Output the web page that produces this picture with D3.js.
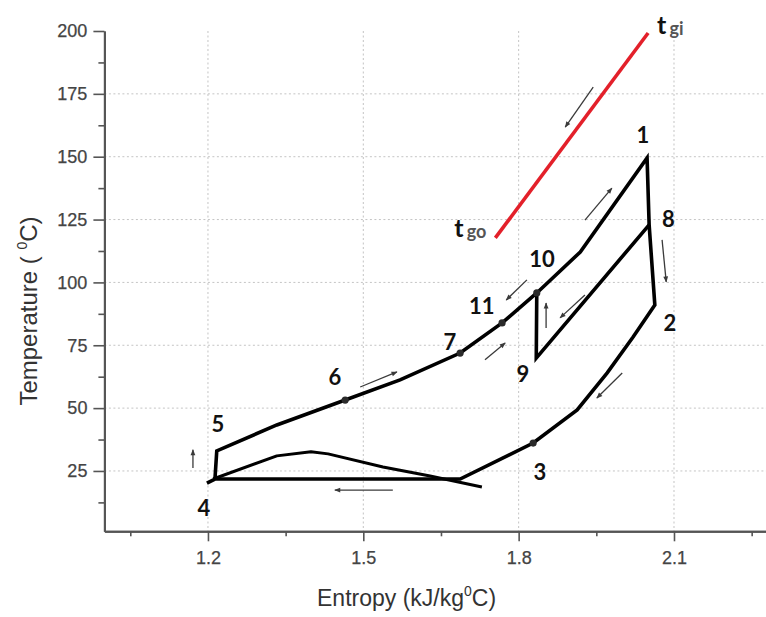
<!DOCTYPE html>
<html><head><meta charset="utf-8">
<script src="https://cdn.jsdelivr.net/npm/d3@7"></script>
<style>
html,body{margin:0;padding:0;background:#fff;}
svg{display:block;}
</style></head>
<body>
<svg id="chart" width="766" height="617"></svg>
<script>
// ---- data (entropy kJ/kg°C, temperature °C) ----
const xMajorTicks = [1.2, 1.5, 1.8, 2.1];
const xMinorTicks = [1.05, 1.35, 1.65, 1.95, 2.25];
const yMajorTicks = [25, 50, 75, 100, 125, 150, 175, 200];
const yMinorTicks = [12.5, 37.5, 62.5, 87.5, 112.5, 137.5, 162.5, 187.5];

// main cycle: 4 -> 5 -> 6 -> 7 -> 11 -> 10 -> 1 -> 8 -> 2 -> 3 -> back to 4
const mainS = [1.198, 1.2135, 1.217, 1.333, 1.465, 1.571, 1.687, 1.768, 1.835, 1.919, 2.048, 2.052, 2.063, 2.021, 1.971, 1.913, 1.828, 1.687, 1.210];
const mainT = [20.2, 21.8, 33.0, 43.3, 53.2, 61.2, 71.9, 83.9, 95.8, 112.1, 149.5, 122.9, 91.0, 78.3, 64.0, 49.3, 36.1, 21.8, 21.8];
// inner recuperation loop: 8 -> 9 -> 10
const innerS = [2.052, 1.834, 1.835];
const innerT = [122.9, 69.9, 95.8];
// saturation dome
const domeS = [1.210, 1.333, 1.399, 1.432, 1.538, 1.629, 1.729];
const domeT = [21.8, 31.0, 32.6, 31.8, 26.6, 23.0, 18.6];
// exhaust gas line t_go -> t_gi
const gasS = [1.755, 2.050];
const gasT = [117.7, 199.2];
// marked state points (3, 6, 7, 11, 10)
const dotS = [1.828, 1.465, 1.687, 1.768, 1.835];
const dotT = [36.1, 53.2, 71.9, 83.9, 95.8];
// state point labels (centre positions)
const labelText = ["1", "8", "2", "10", "11", "7", "6", "9", "3", "5", "4"];
const labelS = [2.040, 2.089, 2.092, 1.845, 1.729, 1.667, 1.445, 1.808, 1.841, 1.219, 1.192];
const labelT = [159.0, 125.6, 83.9, 109.7, 91.0, 76.3, 62.4, 63.6, 24.6, 43.7, 10.3];
// direction arrows (from -> to)
const arrowS0 = [1.944, 1.928, 2.077, 1.816, 1.853, 1.928, 1.735, 1.494, 2.000, 1.557, 1.171];
const arrowT0 = [177.7, 124.8, 116.9, 101.0, 81.9, 95.0, 69.2, 58.4, 64.0, 17.4, 26.2];
const arrowS1 = [1.890, 1.980, 2.085, 1.776, 1.853, 1.880, 1.774, 1.565, 1.951, 1.445, 1.171];
const arrowT1 = [161.8, 137.5, 100.2, 93.0, 91.8, 85.9, 75.9, 64.4, 54.0, 17.4, 33.4];

// ---- drawing ----
const svg = d3.select("#chart");
const x = d3.scaleLinear().domain([1.0, 2.28]).range([104.4, 767.2]);
const y = d3.scaleLinear().domain([1, 200]).range([531.3, 31]);

const axisColor = "#555";
const sans = "'Liberation Sans', Arial, sans-serif";

// grid
const grid = svg.append("g");
grid.selectAll("line.v").data(xMajorTicks).join("line")
  .attr("x1", d => x(d)).attr("x2", d => x(d))
  .attr("y1", y(200)).attr("y2", y(1))
  .attr("stroke", "#c4c4c4").attr("stroke-width", 1).attr("stroke-dasharray", "2,2.5");
grid.selectAll("line.h").data(yMajorTicks.filter(d => d < 200)).join("line")
  .attr("x1", x(1.0)).attr("x2", 766)
  .attr("y1", d => y(d)).attr("y2", d => y(d))
  .attr("stroke", "#c4c4c4").attr("stroke-width", 1).attr("stroke-dasharray", "2,2.5");

// axes
function styleAxis(g) {
  g.selectAll("path.domain").attr("stroke", axisColor).attr("stroke-width", 2);
  g.selectAll(".tick line").attr("stroke", axisColor).attr("stroke-width", 1.6);
  g.selectAll(".tick text").attr("fill", "#444").attr("stroke", "#444").attr("stroke-width", 0.25)
    .attr("font-family", sans).attr("font-size", 18);
}
const yAxisMinor = svg.append("g").attr("transform", `translate(${x(1.0)},0)`)
  .call(d3.axisLeft(y).tickValues(yMinorTicks).tickSize(6).tickSizeOuter(0).tickFormat(""));
styleAxis(yAxisMinor);
const yAxis = svg.append("g").attr("transform", `translate(${x(1.0)},0)`)
  .call(d3.axisLeft(y).tickValues(yMajorTicks).tickSize(11).tickSizeOuter(0).tickPadding(6).tickFormat(d3.format("d")));
styleAxis(yAxis);

const xAxisMinor = svg.append("g").attr("transform", `translate(0,${y(1)})`)
  .call(d3.axisBottom(x).tickValues(xMinorTicks).tickSize(5).tickSizeOuter(0).tickFormat(""));
styleAxis(xAxisMinor);
const xAxis = svg.append("g").attr("transform", `translate(0,${y(1)})`)
  .call(d3.axisBottom(x).tickValues(xMajorTicks).tickSize(10).tickSizeOuter(0).tickPadding(10).tickFormat(d3.format(".1f")));
styleAxis(xAxis);

// axis titles
const xt = svg.append("text").attr("x", 317).attr("y", 606).attr("text-anchor", "start")
  .attr("font-family", sans).attr("font-size", 23).attr("fill", "#333");
xt.append("tspan").text("Entropy (kJ/kg");
xt.append("tspan").attr("font-size", 14).attr("dy", -10).text("0");
xt.append("tspan").attr("dy", 10).text("C)");

const yt = svg.append("text").attr("transform", "translate(37,311) rotate(-90)").attr("text-anchor", "middle")
  .attr("font-family", sans).attr("font-size", 24).attr("fill", "#333");
yt.append("tspan").text("Temperature ( ");
yt.append("tspan").attr("font-size", 14).attr("dy", -10).text("0");
yt.append("tspan").attr("dy", 10).text("C)");

// line generator
const line = d3.line().x(d => x(d[0])).y(d => y(d[1]));
const zip = (a, b) => a.map((v, i) => [v, b[i]]);

// dome
svg.append("path").attr("d", line(zip(domeS, domeT)))
  .attr("fill", "none").attr("stroke", "#000").attr("stroke-width", 3).attr("stroke-linejoin", "round");
// main cycle
svg.append("path").attr("d", line(zip(mainS, mainT)))
  .attr("fill", "none").attr("stroke", "#000").attr("stroke-width", 3.6).attr("stroke-linejoin", "miter");
// inner loop
svg.append("path").attr("d", line(zip(innerS, innerT)))
  .attr("fill", "none").attr("stroke", "#000").attr("stroke-width", 3.6).attr("stroke-linejoin", "miter");
// gas line
svg.append("path").attr("d", line(zip(gasS, gasT)))
  .attr("fill", "none").attr("stroke", "#e3202a").attr("stroke-width", 3.6);

// dots
svg.selectAll("circle.dot").data(zip(dotS, dotT)).join("circle")
  .attr("cx", d => x(d[0])).attr("cy", d => y(d[1])).attr("r", 3.6).attr("fill", "#2a2a2a");

// arrows
const defs = svg.append("defs");
defs.append("marker").attr("id", "ah").attr("viewBox", "0 0 10 10").attr("refX", 9).attr("refY", 5)
  .attr("markerWidth", 7).attr("markerHeight", 6).attr("markerUnits", "userSpaceOnUse").attr("orient", "auto")
  .append("path").attr("d", "M0,1 L10,5 L0,9 z").attr("fill", "#3a3a3a");
svg.selectAll("line.arrow").data(arrowS0.map((s, i) => i)).join("line")
  .attr("x1", i => x(arrowS0[i])).attr("y1", i => y(arrowT0[i]))
  .attr("x2", i => x(arrowS1[i])).attr("y2", i => y(arrowT1[i]))
  .attr("stroke", "#3a3a3a").attr("stroke-width", 1.3).attr("marker-end", "url(#ah)");

// state labels
svg.selectAll("text.lbl").data(labelText).join("text")
  .attr("x", (d, i) => x(labelS[i])).attr("y", (d, i) => y(labelT[i]))
  .attr("text-anchor", "middle").attr("dominant-baseline", "central")
  .attr("font-family", "Lato, 'Open Sans', sans-serif").attr("font-weight", "bold").attr("font-size", 22)
  .attr("fill", "#111").text(d => d);

// t_go, t_gi labels
const tgo = svg.append("text").attr("x", x(gasS[0]) - 41).attr("y", y(gasT[0]) - 1)
  .attr("font-family", "Lato, 'Open Sans', sans-serif").attr("font-weight", "bold");
tgo.append("tspan").attr("font-size", 25).attr("fill", "#111").text("t");
tgo.append("tspan").attr("font-size", 18).attr("fill", "#555").attr("dx", 3).attr("dy", 1).text("go");
const tgi = svg.append("text").attr("x", x(gasS[1]) + 9).attr("y", y(gasT[1]) + 1)
  .attr("font-family", "Lato, 'Open Sans', sans-serif").attr("font-weight", "bold");
tgi.append("tspan").attr("font-size", 25).attr("fill", "#111").text("t");
tgi.append("tspan").attr("font-size", 18).attr("fill", "#555").attr("dx", 3).attr("dy", 1).text("gi");
</script>
</body></html>
